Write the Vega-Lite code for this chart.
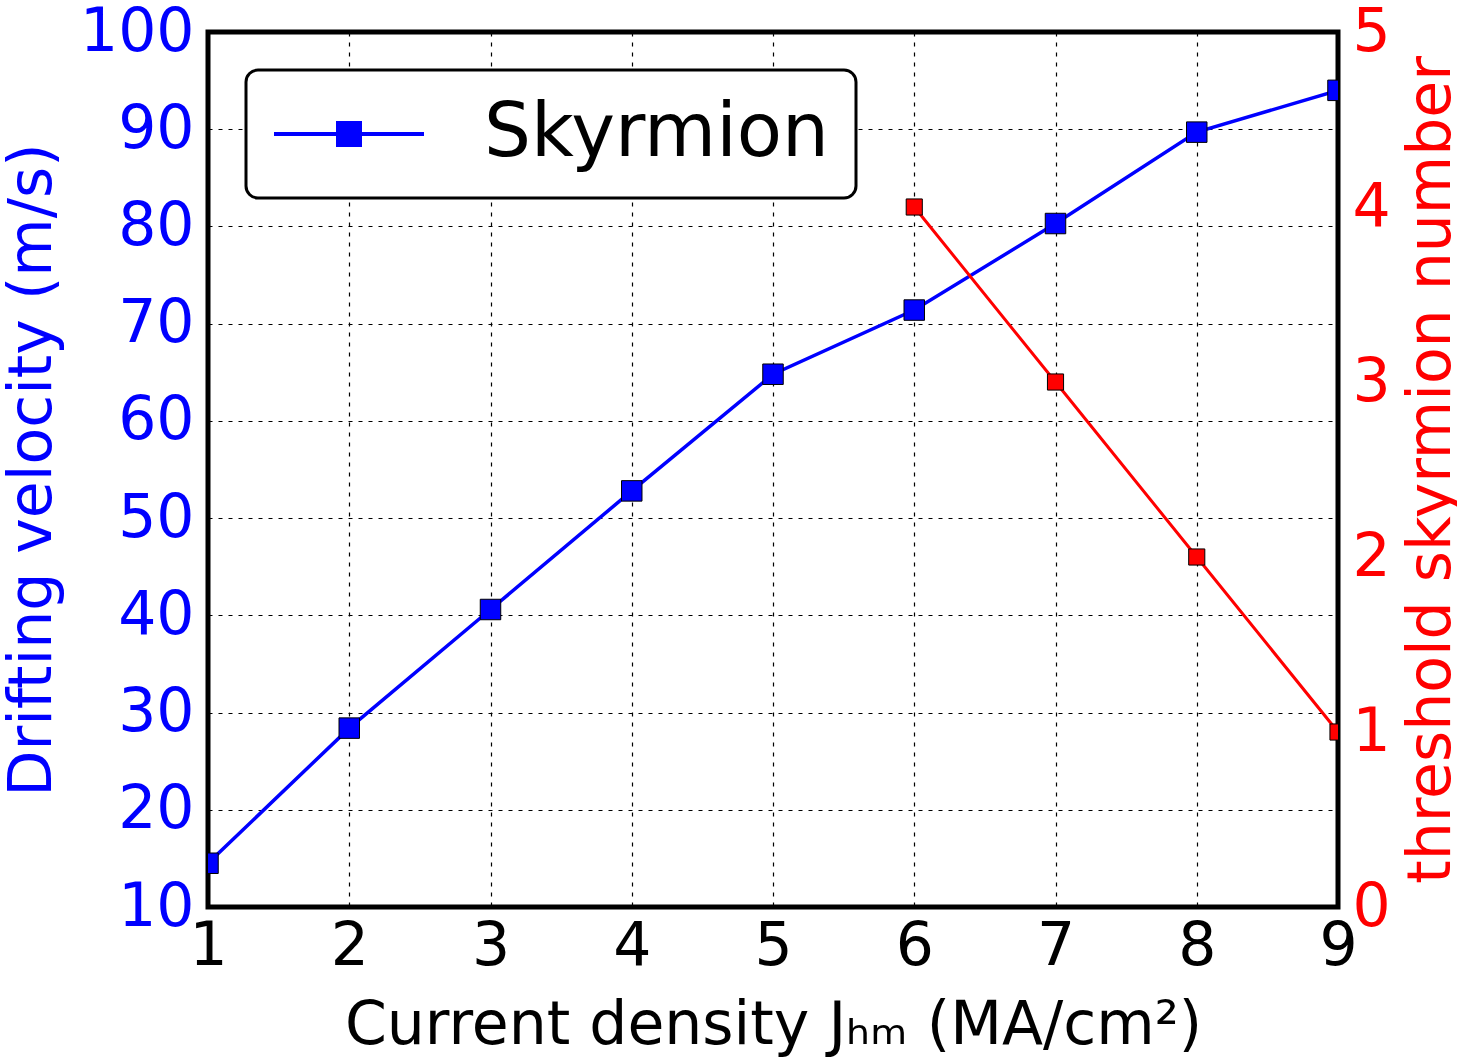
{
  "$schema": "https://vega.github.io/schema/vega-lite/v6.json",
  "autosize": "none",
  "width": 1130,
  "height": 875,
  "padding": {"left": 208, "top": 32, "right": 119, "bottom": 153},
  "background": "white",
  "config": {
    "font": "DejaVu Sans",
    "view": {"stroke": "black", "strokeWidth": 5},
    "axis": {
      "labelFont": "DejaVu Sans",
      "titleFont": "DejaVu Sans",
      "labelFontSize": 60,
      "titleFontSize": 60,
      "titleFontWeight": "normal",
      "domain": false,
      "ticks": false,
      "grid": true,
      "gridColor": "black",
      "gridOpacity": 1,
      "gridWidth": 1.2,
      "gridDash": [4, 6],
      "labelOverlap": false,
      "labelBound": false,
      "labelFlush": false
    },
    "legend": {
      "labelFont": "DejaVu Sans"
    }
  },
  "datasets": {
    "skyrmion": [
      {"j": 1, "v": 14.5, "n": null, "series": "Skyrmion"},
      {"j": 2, "v": 28.4, "n": null, "series": "Skyrmion"},
      {"j": 3, "v": 40.6, "n": null, "series": "Skyrmion"},
      {"j": 4, "v": 52.8, "n": null, "series": "Skyrmion"},
      {"j": 5, "v": 64.8, "n": null, "series": "Skyrmion"},
      {"j": 6, "v": 71.4, "n": 4, "series": "Skyrmion"},
      {"j": 7, "v": 80.3, "n": 3, "series": "Skyrmion"},
      {"j": 8, "v": 89.7, "n": 2, "series": "Skyrmion"},
      {"j": 9, "v": 94.0, "n": 1, "series": "Skyrmion"}
    ]
  },
  "data": {"name": "skyrmion"},
  "encoding": {
    "x": {
      "field": "j",
      "type": "quantitative",
      "scale": {"domain": [1, 9], "nice": false, "zero": false},
      "axis": {
        "title": "Current density Jₕₘ (MA/cm²)",
        "values": [1, 2, 3, 4, 5, 6, 7, 8, 9],
        "labelColor": "black",
        "titleColor": "black",
        "labelPadding": 10,
        "titlePadding": 20
      }
    }
  },
  "layer": [
    {
      "mark": {
        "type": "line",
        "strokeWidth": 3.5,
        "clip": true,
        "point": {"shape": "square", "size": 420, "filled": true, "stroke": "black", "strokeWidth": 1}
      },
      "encoding": {
        "y": {
          "field": "v",
          "type": "quantitative",
          "scale": {"domain": [10, 100], "nice": false, "zero": false},
          "axis": {
            "orient": "left",
            "title": "Drifting velocity (m/s)",
            "values": [10, 20, 30, 40, 50, 60, 70, 80, 90, 100],
            "labelColor": "blue",
            "titleColor": "blue",
            "labelPadding": 14,
            "titlePadding": 16
          }
        },
        "color": {
          "field": "series",
          "type": "nominal",
          "scale": {"domain": ["Skyrmion"], "range": ["blue"]},
          "legend": {
            "title": null,
            "orient": "top-left",
            "offset": 38,
            "padding": 27,
            "strokeColor": "black",
            "cornerRadius": 12,
            "fillColor": "white",
            "labelFontSize": 74,
            "labelColor": "black",
            "labelLimit": 600,
            "labelOffset": 137,
            "symbolType": "M-1.44,0L4.56,0M1.12,-0.44L2.0,-0.44L2.0,0.44L1.12,0.44Z",
            "symbolSize": 2500,
            "symbolStrokeWidth": 4,
            "symbolFillColor": "blue",
            "symbolStrokeColor": "blue",
            "encode": {
              "legend": {"update": {"strokeWidth": {"value": 3}}},
              "symbols": {"update": {"strokeWidth": {"value": 4}, "fill": {"value": "blue"}, "stroke": {"value": "blue"}}}
            }
          }
        }
      }
    },
    {
      "transform": [{"filter": "datum.n != null"}],
      "mark": {
        "type": "line",
        "color": "red",
        "strokeWidth": 3,
        "clip": true,
        "point": {"shape": "square", "size": 260, "filled": true, "color": "red", "stroke": "black", "strokeWidth": 1}
      },
      "encoding": {
        "y": {
          "field": "n",
          "type": "quantitative",
          "scale": {"domain": [0, 5], "nice": false, "zero": false},
          "axis": {
            "orient": "right",
            "title": "threshold skyrmion number",
            "values": [0, 1, 2, 3, 4, 5],
            "labelColor": "red",
            "titleColor": "red",
            "labelPadding": 14,
            "titlePadding": 12,
            "titleAngle": 270,
            "titleBaseline": "top"
          }
        }
      }
    }
  ],
  "resolve": {"scale": {"y": "independent"}, "axis": {"y": "independent"}}
}
